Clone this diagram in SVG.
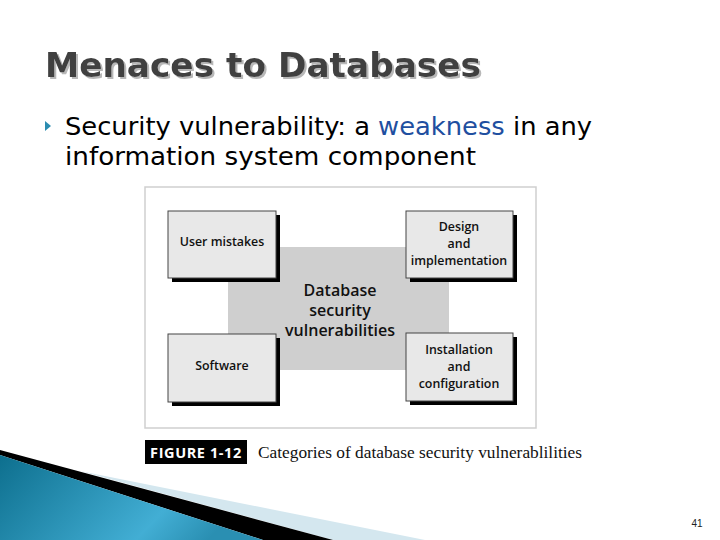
<svg xmlns="http://www.w3.org/2000/svg" width="720" height="540" viewBox="0 0 720 540">
<defs>
<linearGradient id="teal" x1="0" y1="0" x2="1" y2="0.3">
<stop offset="0" stop-color="#0d6f8e"/>
<stop offset="0.75" stop-color="#42aed4"/>
<stop offset="1" stop-color="#2a8fb2"/>
</linearGradient>
<filter id="tshadow" x="-5%" y="-20%" width="110%" height="150%">
<feDropShadow dx="2" dy="2" stdDeviation="0.6" flood-color="#b8b8b8" flood-opacity="1"/>
</filter>
<style>
.title{font-family:"DejaVu Sans",sans-serif;font-weight:bold;font-size:34px;fill:#404040}
.body{font-family:"DejaVu Sans Condensed","DejaVu Sans",sans-serif;font-size:25px;fill:#000}
.box{fill:#e8e8e8;stroke:#444;stroke-width:1}
.shadow{fill:#000}
.lbl{font-family:"Open Sans","DejaVu Sans",sans-serif;font-weight:600;font-size:12.4px;fill:#111;text-anchor:middle}
.clbl{font-family:"Open Sans","DejaVu Sans",sans-serif;font-weight:600;font-size:16px;fill:#111;text-anchor:middle}
</style>
</defs>
<rect width="720" height="540" fill="#fff"/>
<!-- decorative swoosh -->
<polygon points="80,471 425,540 333,540" fill="#d4e7ef"/>
<polygon points="0,450 333,540 263,540 0,455" fill="#000"/>
<polygon points="0,455 263,540 0,540" fill="url(#teal)"/>
<!-- title -->
<text class="title" x="45" y="77" filter="url(#tshadow)" textLength="436" lengthAdjust="spacingAndGlyphs">Menaces to Databases</text>
<!-- bullet -->
<polygon points="45,121 51,126 45,131" fill="#2b8cb0"/>
<text class="body" x="65" y="135" textLength="527" lengthAdjust="spacingAndGlyphs">Security vulnerability: a <tspan fill="#1f4fa0">weakness</tspan> in any</text>
<text class="body" x="65" y="165" textLength="411" lengthAdjust="spacingAndGlyphs">information system component</text>
<!-- figure -->
<rect x="145" y="187" width="391" height="241" fill="#fff" stroke="#cfcfcf" stroke-width="1.5"/>
<g id="center">
<rect x="228" y="247" width="221" height="123" fill="#cfcfcf"/>
<text class="clbl" x="340" y="296">Database</text>
<text class="clbl" x="340" y="316">security</text>
<text class="clbl" x="340" y="336">vulnerabilities</text>
</g>
<g id="user-mistakes">
<rect class="shadow" x="172" y="215" width="108" height="67"/>
<rect class="box" x="168" y="211" width="108" height="67"/>
<text class="lbl" x="222" y="246">User mistakes</text>
</g>
<g id="design">
<rect class="shadow" x="410" y="215" width="107" height="67"/>
<rect class="box" x="406" y="211" width="107" height="67"/>
<text class="lbl" x="459" y="231">Design</text>
<text class="lbl" x="459" y="248">and</text>
<text class="lbl" x="459" y="265">implementation</text>
</g>
<g id="software">
<rect class="shadow" x="172" y="338" width="108" height="68"/>
<rect class="box" x="168" y="334" width="108" height="68"/>
<text class="lbl" x="222" y="370">Software</text>
</g>
<g id="installation">
<rect class="shadow" x="410" y="337" width="107" height="68"/>
<rect class="box" x="406" y="333" width="107" height="68"/>
<text class="lbl" x="459" y="354">Installation</text>
<text class="lbl" x="459" y="371">and</text>
<text class="lbl" x="459" y="388">configuration</text>
</g>
<g id="connectors"></g>
<!-- caption -->
<rect x="145" y="440" width="102" height="24" fill="#000"/>
<text x="196" y="458" text-anchor="middle" font-family="'Open Sans','DejaVu Sans',sans-serif" font-weight="bold" font-size="14.5" letter-spacing="0.6" fill="#fff">FIGURE 1-12</text>
<text x="258" y="458" font-family="'Liberation Serif',serif" font-size="17" fill="#111" textLength="324" lengthAdjust="spacingAndGlyphs">Categories of database security vulnerablilities</text>
<!-- page number -->
<text x="697" y="527" text-anchor="middle" font-family="'Liberation Sans',sans-serif" font-size="10" fill="#222">41</text>
</svg>
